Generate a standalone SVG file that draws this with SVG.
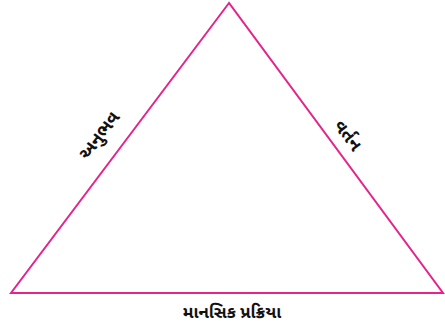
<svg xmlns="http://www.w3.org/2000/svg" width="445" height="328" viewBox="0 0 445 328">
<style>
.edge{fill:none;stroke:#e4248a;stroke-width:2;stroke-linejoin:miter}
.lbl{font-family:"Noto Sans Gujarati","Noto Sans","DejaVu Sans",sans-serif;font-weight:bold;font-size:17px;fill:#111;text-anchor:middle}
.side{font-size:18px}
</style>
<rect width="445" height="328" fill="#fff"/>
<g id="connectors">
<polygon class="edge" points="229,3 11,293 443,293"/>
</g>
<g id="left-label"><text class="lbl side" transform="translate(104,139) rotate(-53)">અનુભવ</text></g>
<g id="right-label"><text class="lbl side" transform="translate(343,139) rotate(53)">વર્તન</text></g>
<g id="bottom-label"><text class="lbl" x="232" y="318">માનસિક પ્રક્રિયા</text></g>
</svg>
